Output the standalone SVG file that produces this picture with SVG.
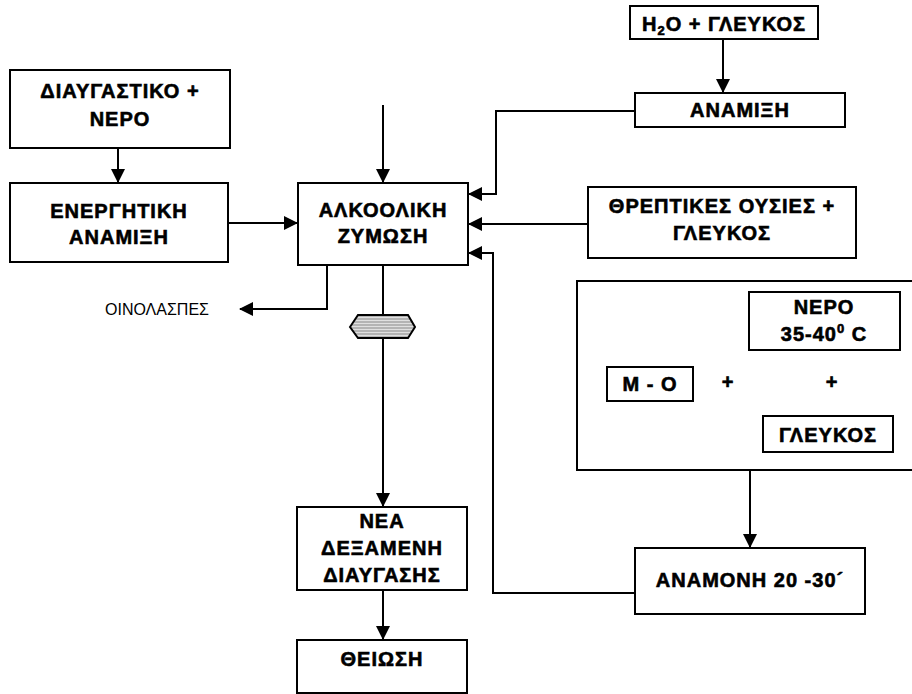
<svg xmlns="http://www.w3.org/2000/svg" width="912" height="694" viewBox="0 0 912 694">
<style>
.box{fill:#fff;stroke:#000;stroke-width:2}
.t{font-family:"Liberation Sans",Arial,sans-serif;font-weight:bold;font-size:20px;letter-spacing:1px;fill:#000;stroke:#000;stroke-width:0.6px;text-anchor:middle}
.r{font-family:"Liberation Sans",Arial,sans-serif;font-size:16px;fill:#000}
.c{fill:none;stroke:#000;stroke-width:2}
</style>
<defs>
<marker id="ah" markerWidth="14" markerHeight="14" viewBox="0 0 14 14" refX="13" refY="7" orient="auto" markerUnits="userSpaceOnUse">
<path d="M0,0 L14,7 L0,14 Z" fill="#000"/>
</marker>
<pattern id="hatch" width="6" height="3" patternUnits="userSpaceOnUse">
<rect width="6" height="3" fill="#e0e0e0"/>
<line x1="0" y1="1" x2="6" y2="1" stroke="#888" stroke-width="1"/>
</pattern>
</defs>
<rect width="912" height="694" fill="#fff"/>
<g id="connectors">
<path class="c" d="M118,149 V182" marker-end="url(#ah)"/>
<path class="c" d="M229,223 H297" marker-end="url(#ah)"/>
<path class="c" d="M383,105 V182" marker-end="url(#ah)"/>
<path class="c" d="M635,111 H496 V194 H469" marker-end="url(#ah)"/>
<path class="c" d="M588,224 H469" marker-end="url(#ah)"/>
<path class="c" d="M635,593 H493 V253 H469" marker-end="url(#ah)"/>
<path class="c" d="M327,266 V309 H240" marker-end="url(#ah)"/>
<path class="c" d="M383,266 V506" marker-end="url(#ah)"/>
<path class="c" d="M383,591 V639" marker-end="url(#ah)"/>
<path class="c" d="M723,40 V92" marker-end="url(#ah)"/>
<path class="c" d="M750,471 V547" marker-end="url(#ah)"/>
</g>
<g id="hexagon">
<polygon points="350,327 358,315 408,315 415,327 408,338 358,338" fill="url(#hatch)" stroke="#000" stroke-width="2"/>
</g>
<g id="diaygastiko">
<rect class="box" x="10" y="70" width="220" height="78"/>
<text class="t" x="120" y="98">ΔΙΑΥΓΑΣΤΙΚΟ +</text>
<text class="t" x="120" y="126">ΝΕΡΟ</text>
</g>
<g id="energitiki">
<rect class="box" x="10" y="183" width="218" height="79"/>
<text class="t" x="119" y="218">ΕΝΕΡΓΗΤΙΚΗ</text>
<text class="t" x="119" y="244">ΑΝΑΜΙΞΗ</text>
</g>
<g id="alkooliki">
<rect class="box" x="298" y="183" width="170" height="82"/>
<text class="t" x="383" y="217">ΑΛΚΟΟΛΙΚΗ</text>
<text class="t" x="383" y="243">ΖΥΜΩΣΗ</text>
</g>
<g id="h2o">
<rect class="box" x="630" y="6" width="188" height="33"/>
<text class="t" x="724" y="31">H<tspan font-size="13" dy="4">2</tspan><tspan dy="-4">O + ΓΛΕΥΚΟΣ</tspan></text>
</g>
<g id="anamixi">
<rect class="box" x="635" y="93" width="210" height="34"/>
<text class="t" x="740" y="117">ΑΝΑΜΙΞΗ</text>
</g>
<g id="threptikes">
<rect class="box" x="588" y="187" width="268" height="71"/>
<text class="t" x="722" y="213">ΘΡΕΠΤΙΚΕΣ ΟΥΣΙΕΣ +</text>
<text class="t" x="722" y="240">ΓΛΕΥΚΟΣ</text>
</g>
<g id="oinolaspes">
<text class="r" x="105" y="315">ΟΙΝΟΛΑΣΠΕΣ</text>
</g>
<g id="mixture">
<path class="c" d="M913,281 H577 V470 H913"/>
<rect class="box" x="749" y="292" width="151" height="58"/>
<text class="t" x="824" y="314">ΝΕΡΟ</text>
<text class="t" x="824" y="341">35-40<tspan font-size="13" dy="-8">0</tspan><tspan dy="8"> C</tspan></text>
<rect class="box" x="607" y="367" width="86" height="34"/>
<text class="t" x="650" y="391">Μ - Ο</text>
<text class="t" x="728" y="389">+</text>
<text class="t" x="832" y="389">+</text>
<rect class="box" x="763" y="416" width="130" height="36"/>
<text class="t" x="828" y="442">ΓΛΕΥΚΟΣ</text>
</g>
<g id="anamoni">
<rect class="box" x="635" y="548" width="230" height="66"/>
<text class="t" x="750" y="587">ΑΝΑΜΟΝΗ 20 -30´</text>
</g>
<g id="nea">
<rect class="box" x="297" y="507" width="170" height="83"/>
<text class="t" x="382" y="528">ΝΕΑ</text>
<text class="t" x="382" y="555">ΔΕΞΑΜΕΝΗ</text>
<text class="t" x="382" y="582">ΔΙΑΥΓΑΣΗΣ</text>
</g>
<g id="theiosi">
<rect class="box" x="297" y="640" width="170" height="53"/>
<text class="t" x="382" y="666">ΘΕΙΩΣΗ</text>
</g>
</svg>
